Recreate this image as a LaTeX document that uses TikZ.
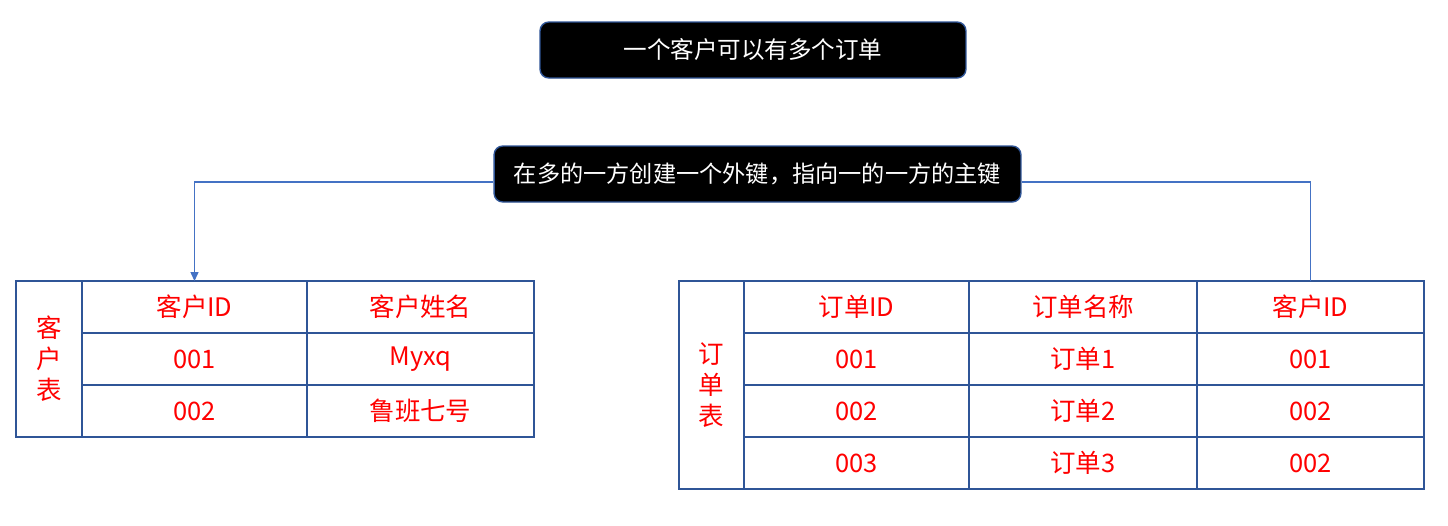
\documentclass[tikz,border=0pt]{standalone}
\usepackage{fontspec}
\setmainfont{Noto Sans CJK SC}
\usetikzlibrary{arrows.meta}
\definecolor{tblue}{HTML}{2F5597}
\definecolor{lblue}{HTML}{4472C4}
\tikzstyle{banner} = [draw=tblue, fill=black, text=white, rounded corners=5pt, line width=0.8pt, inner sep=0pt, font=\fontsize{13.4pt}{16pt}\selectfont]
\tikzstyle{cell} = [draw=tblue, line width=1.1pt, text=red, inner sep=0pt, outer sep=0pt, minimum height=1.04cm, align=center, font=\fontsize{14.5pt}{17.6pt}\selectfont]
\tikzstyle{link} = [draw=lblue, line width=0.6pt]
\tikzstyle{arrow} = [link, -{Triangle[length=5pt, width=4.5pt]}]

\begin{document}
\begin{tikzpicture}[x=0.02cm, y=-0.02cm]
			\useasboundingbox (0, 0) rectangle (1448, 525);
			\node[banner, minimum width=8.52cm, minimum height=1.12cm] (title) at (753, 50) {一个客户可以有多个订单};
			\node[banner, minimum width=10.54cm, minimum height=1.12cm, font=\fontsize{13.2pt}{16pt}\selectfont] (rule) at (757.5, 174) {在多的一方创建一个外键，指向一的一方的主键};
			% customer table
			\node[cell, minimum width=1.32cm, minimum height=3.12cm] (ctab) at (49, 359) {客\\户\\表};
			\node[cell, minimum width=4.5cm] (cid) at (194.5, 307) {客户ID};
			\node[cell, minimum width=4.54cm] (cname) at (420.5, 307) {客户姓名};
			\node[cell, minimum width=4.5cm] (cid1) at (194.5, 359) {001};
			\node[cell, minimum width=4.54cm] (cname1) at (420.5, 359) {Myxq};
			\node[cell, minimum width=4.5cm] (cid2) at (194.5, 411) {002};
			\node[cell, minimum width=4.54cm] (cname2) at (420.5, 411) {鲁班七号};
			% order table
			\node[cell, minimum width=1.3cm, minimum height=4.16cm] (otab) at (711.5, 385) {订\\单\\表};
			\node[cell, minimum width=4.5cm] (oid) at (856.5, 307) {订单ID};
			\node[cell, minimum width=4.56cm] (oname) at (1083, 307) {订单名称};
			\node[cell, minimum width=4.54cm] (ocid) at (1310.5, 307) {客户ID};
			\node[cell, minimum width=4.5cm] (oid1) at (856.5, 359) {001};
			\node[cell, minimum width=4.56cm] (oname1) at (1083, 359) {订单1};
			\node[cell, minimum width=4.54cm] (ocid1) at (1310.5, 359) {001};
			\node[cell, minimum width=4.5cm] (oid2) at (856.5, 411) {002};
			\node[cell, minimum width=4.56cm] (oname2) at (1083, 411) {订单2};
			\node[cell, minimum width=4.54cm] (ocid2) at (1310.5, 411) {002};
			\node[cell, minimum width=4.5cm] (oid3) at (856.5, 463) {003};
			\node[cell, minimum width=4.56cm] (oname3) at (1083, 463) {订单3};
			\node[cell, minimum width=4.54cm] (ocid3) at (1310.5, 463) {002};
			% foreign key links
			\draw[arrow] ([yshift=-0.16cm]rule.west) -| (cid.north);
			\draw[link] ([yshift=-0.16cm]rule.east) -| (ocid.north);
		\end{tikzpicture}
\end{document}
